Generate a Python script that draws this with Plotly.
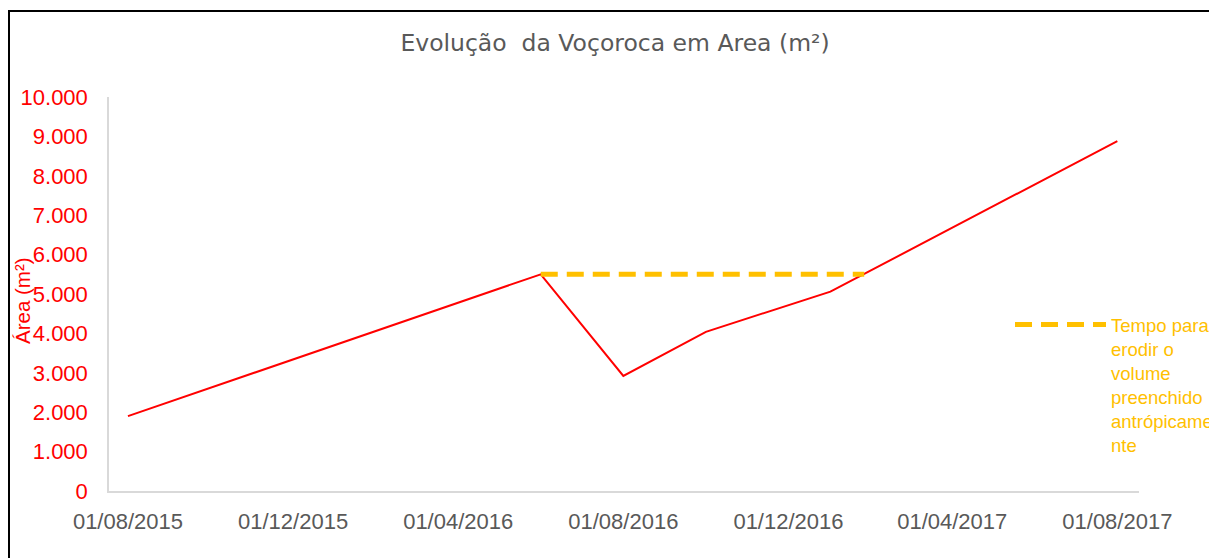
import plotly.graph_objects as go

# ---- data ----
dates = ["2015-08-01", "2016-06-01", "2016-08-01", "2016-10-01", "2017-01-01", "2017-08-01"]
area_m2 = [1900, 5500, 2920, 4040, 5060, 8880]

tempo_dates = ["2016-06-01", "2017-01-26"]
tempo_area = [5500, 5500]

x_tick_dates = ["2015-08-01", "2015-12-01", "2016-04-01", "2016-08-01",
                "2016-12-01", "2017-04-01", "2017-08-01"]
x_tick_labels = ["01/08/2015", "01/12/2015", "01/04/2016", "01/08/2016",
                 "01/12/2016", "01/04/2017", "01/08/2017"]

# ---- layout geometry (pixels in the page; page body has an 8px margin) ----
OFF = 8
W, H = 1217 - OFF, 558 - OFF
L, R, T, B = 109 - OFF, 1139 - OFF, 97 - OFF, 491 - OFF

def px_x(px):
    return (px - OFF - L) / (R - L)

def px_y(py):
    return (B - (py - OFF)) / (B - T)

fig = go.Figure()

fig.add_trace(go.Scatter(
    x=dates, y=area_m2, mode="lines",
    line=dict(color="#FF0000", width=2),
    showlegend=False, hoverinfo="x+y",
))

fig.add_trace(go.Scatter(
    x=tempo_dates, y=tempo_area, mode="lines",
    line=dict(color="#FFC000", width=5, dash="17px,9px"),
    name="Tempo para<br>erodir o<br>volume<br>preenchido<br>antrópicame<br>nte",
))

fig.update_layout(
    width=W, height=H,
    margin=dict(l=L, r=W - R, t=T, b=H - B, pad=0, autoexpand=False),
    paper_bgcolor="white", plot_bgcolor="white",
    separators=",.",
    font=dict(family="Liberation Sans, Arial, sans-serif"),
    title=dict(
        text="Evolução  da Voçoroca em Area (m²)",
        font=dict(family="DejaVu Sans", size=23.5, color="#595959"),
        x=(615 - OFF) / W, xref="container", xanchor="center",
        y=1 - (43 - OFF) / H, yref="container", yanchor="middle",
    ),
    xaxis=dict(
        type="date",
        range=["2015-07-18", "2017-08-17"],
        tickmode="array", tickvals=x_tick_dates, ticktext=x_tick_labels,
        showgrid=False, zeroline=False,
        showline=True, linecolor="#D9D9D9", linewidth=1.5,
        ticks="", ticklabelstandoff=10,
        tickfont=dict(size=22, color="#595959"),
    ),
    yaxis=dict(
        range=[0, 10000], dtick=1000, tick0=0, tickformat=",d",
        showgrid=False, zeroline=False,
        showline=True, linecolor="#D9D9D9", linewidth=1.5,
        ticks="", ticklabelstandoff=15,
        tickfont=dict(size=22, color="#FF0000"),
    ),
    legend=dict(
        x=px_x(1010), y=px_y(306), xanchor="left", yanchor="top",
        xref="paper", yref="paper",
        bgcolor="rgba(0,0,0,0)", borderwidth=0,
        font=dict(size=18.5, color="#FFC000"),
        itemwidth=91, valign="top",
    ),
    annotations=[dict(
        text="Área (m²)", textangle=-90,
        x=px_x(22), y=px_y(301), xref="paper", yref="paper",
        xanchor="center", yanchor="middle", showarrow=False,
        font=dict(size=20.5, color="#FF0000"),
    )],
    shapes=[dict(
        type="rect", xref="paper", yref="paper",
        x0=px_x(9), x1=px_x(1300), y0=px_y(700), y1=px_y(11),
        line=dict(color="black", width=2), fillcolor="rgba(0,0,0,0)",
        layer="above",
    )],
)

fig.write_html("out.html")
